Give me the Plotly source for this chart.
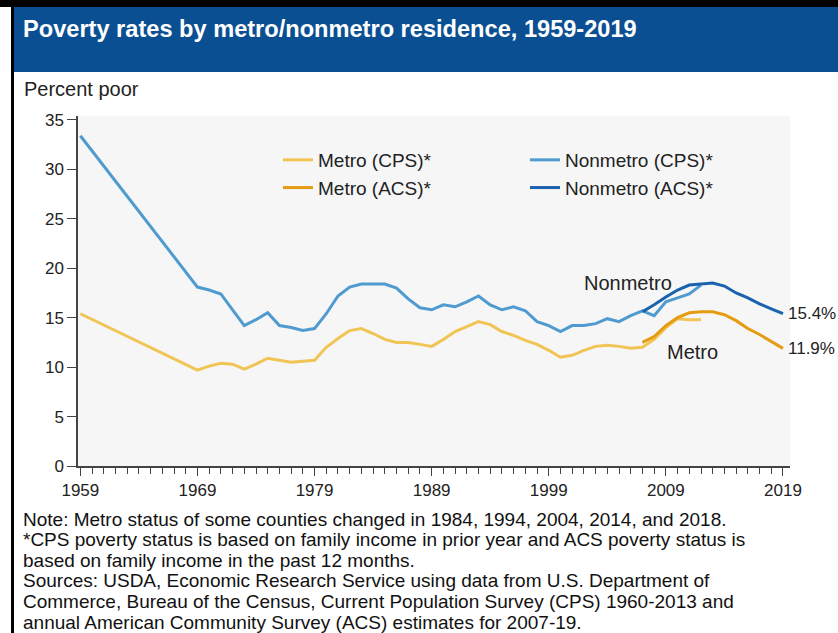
import plotly.graph_objects as go

# ---------------- data ----------------
metro_cps_years = [1959, 1969, 1970, 1971, 1972, 1973, 1974, 1975, 1976, 1977, 1978, 1979,
                   1980, 1981, 1982, 1983, 1984, 1985, 1986, 1987, 1988, 1989, 1990, 1991,
                   1992, 1993, 1994, 1995, 1996, 1997, 1998, 1999, 2000, 2001, 2002, 2003,
                   2004, 2005, 2006, 2007, 2008, 2009, 2010, 2011, 2012]
metro_cps = [15.4, 9.7, 10.1, 10.4, 10.3, 9.8, 10.3, 10.9, 10.7, 10.5, 10.6, 10.7,
             12.0, 12.9, 13.7, 13.9, 13.4, 12.8, 12.5, 12.5, 12.3, 12.1, 12.8, 13.6,
             14.1, 14.6, 14.3, 13.6, 13.2, 12.7, 12.3, 11.7, 11.0, 11.2, 11.7, 12.1,
             12.2, 12.1, 11.9, 12.0, 12.8, 14.0, 14.9, 14.8, 14.8]

nonmetro_cps_years = metro_cps_years
nonmetro_cps = [33.4, 18.1, 17.8, 17.4, 15.8, 14.2, 14.8, 15.5, 14.2, 14.0, 13.7, 13.9,
                15.4, 17.2, 18.1, 18.4, 18.4, 18.4, 18.0, 16.9, 16.0, 15.8, 16.3, 16.1,
                16.6, 17.2, 16.3, 15.8, 16.1, 15.7, 14.6, 14.2, 13.6, 14.2, 14.2, 14.4,
                14.9, 14.6, 15.2, 15.7, 15.2, 16.6, 17.0, 17.4, 18.3]

acs_years = [2007, 2008, 2009, 2010, 2011, 2012, 2013, 2014, 2015, 2016, 2017, 2018, 2019]
metro_acs = [12.5, 13.1, 14.2, 15.0, 15.5, 15.6, 15.6, 15.3, 14.7, 13.9, 13.3, 12.6, 11.9]
nonmetro_acs = [15.6, 16.3, 17.1, 17.8, 18.3, 18.4, 18.5, 18.2, 17.5, 17.0, 16.4, 15.9, 15.4]

x_ticks = [1959, 1969, 1979, 1989, 1999, 2009, 2019]
y_ticks = [0, 5, 10, 15, 20, 25, 30, 35]

note_lines = [
    "Note: Metro status of some counties changed in 1984, 1994, 2004, 2014, and 2018.",
    "*CPS poverty status is based on family income in prior year and ACS poverty status is",
    "based on family income in the past 12 months.",
    "Sources: USDA, Economic Research Service using data from U.S. Department of",
    "Commerce, Bureau of the Census, Current Population Survey (CPS) 1960-2013 and",
    "annual American Community Survey (ACS) estimates for 2007-19.",
]

# ---------------- style ----------------
C_METRO_CPS = "#f1c555"
C_METRO_ACS = "#e59c12"
C_NON_CPS = "#4f9bd0"
C_NON_ACS = "#1a62ad"
FONT = "Liberation Sans, Arial, sans-serif"

W, H = 838, 633
L, R, T, B = 78, 790, 116, 466


def px(x):
    return (x - L) / (R - L)


def py(y):
    return (B - y) / (B - T)


fig = go.Figure()
fig.add_trace(go.Scatter(x=metro_cps_years, y=metro_cps, mode="lines", name="Metro (CPS)*",
                         line=dict(color=C_METRO_CPS, width=3), legend="legend"))
fig.add_trace(go.Scatter(x=nonmetro_cps_years, y=nonmetro_cps, mode="lines", name="Nonmetro (CPS)*",
                         line=dict(color=C_NON_CPS, width=3), legend="legend2"))
fig.add_trace(go.Scatter(x=acs_years, y=metro_acs, mode="lines", name="Metro (ACS)*",
                         line=dict(color=C_METRO_ACS, width=3), legend="legend"))
fig.add_trace(go.Scatter(x=acs_years, y=nonmetro_acs, mode="lines", name="Nonmetro (ACS)*",
                         line=dict(color=C_NON_ACS, width=3), legend="legend2"))

shapes = [
    # title bar
    dict(type="rect", xref="paper", yref="paper", x0=px(12), x1=px(W + 5), y0=py(72), y1=py(6),
         fillcolor="#0b4f93", line=dict(width=0), layer="below"),
    # black top band
    dict(type="rect", xref="paper", yref="paper", x0=px(-5), x1=px(W + 5), y0=py(7), y1=py(-5),
         fillcolor="black", line=dict(width=0)),
    # black left border
    dict(type="rect", xref="paper", yref="paper", x0=px(11), x1=px(14), y0=py(H + 5), y1=py(-5),
         fillcolor="black", line=dict(width=0)),
]

annotations = [
    dict(text="<b>Poverty rates by metro/nonmetro residence, 1959-2019</b>", xref="paper", yref="paper",
         x=px(21), y=py(29), xanchor="left", yanchor="middle", showarrow=False,
         font=dict(family=FONT, size=23.6, color="white")),
    dict(text="Percent poor", xref="paper", yref="paper", x=px(22), y=py(89),
         xanchor="left", yanchor="middle", showarrow=False,
         font=dict(family=FONT, size=20, color="#222")),
    dict(text="Nonmetro", x=2005.8, y=18.5, showarrow=False, xanchor="center", yanchor="middle",
         font=dict(family=FONT, size=20, color="#222")),
    dict(text="Metro", x=2011.3, y=11.5, showarrow=False, xanchor="center", yanchor="middle",
         font=dict(family=FONT, size=20, color="#222")),
    dict(text="15.4%", x=acs_years[-1], y=nonmetro_acs[-1], xanchor="left", yanchor="middle",
         xshift=3, showarrow=False, font=dict(family=FONT, size=17, color="#222")),
    dict(text="11.9%", x=acs_years[-1], y=metro_acs[-1], xanchor="left", yanchor="middle",
         xshift=3, showarrow=False, font=dict(family=FONT, size=17, color="#222")),
]
for i, line in enumerate(note_lines):
    annotations.append(dict(text=line, xref="paper", yref="paper", x=px(21), y=py(519 + i * 20.6),
                            xanchor="left", yanchor="middle", align="left", showarrow=False,
                            font=dict(family=FONT, size=19, color="#111")))

fig.update_layout(
    width=W, height=H,
    margin=dict(l=L, r=W - R, t=T, b=H - B, pad=0),
    paper_bgcolor="white",
    plot_bgcolor="#f6f6f6",
    font=dict(family=FONT, size=17, color="#222"),
    showlegend=True,
    legend=dict(x=px(278), y=py(141), xanchor="left", yanchor="top", bgcolor="rgba(0,0,0,0)",
                font=dict(family=FONT, size=19, color="#222"), tracegroupgap=0),
    legend2=dict(x=px(525), y=py(141), xanchor="left", yanchor="top", bgcolor="rgba(0,0,0,0)",
                 font=dict(family=FONT, size=19, color="#222"), tracegroupgap=0),
    shapes=shapes,
    annotations=annotations,
    xaxis=dict(range=[1958.8, 2019.6], tickmode="array", tickvals=x_ticks,
               ticktext=[str(v) for v in x_ticks], ticks="outside", ticklen=8, tickcolor="#444",
               showline=True, linecolor="#444", linewidth=1.5, showgrid=False, zeroline=False,
               minor=dict(dtick=1, tick0=1959, ticks="outside", ticklen=6, tickcolor="#444", showgrid=False),
               tickfont=dict(family=FONT, size=17, color="#222")),
    yaxis=dict(range=[0, 35.4], tickmode="array", tickvals=y_ticks, ticks="outside", ticklen=9,
               tickcolor="#444", showline=True, linecolor="#444", linewidth=1.5, showgrid=False,
               zeroline=False, tickfont=dict(family=FONT, size=17, color="#222")),
)

fig.write_html("out.html", config={"displayModeBar": False},
               post_script="document.body.style.margin='0';document.body.style.padding='0';"
                           "document.body.style.overflow='hidden';")
